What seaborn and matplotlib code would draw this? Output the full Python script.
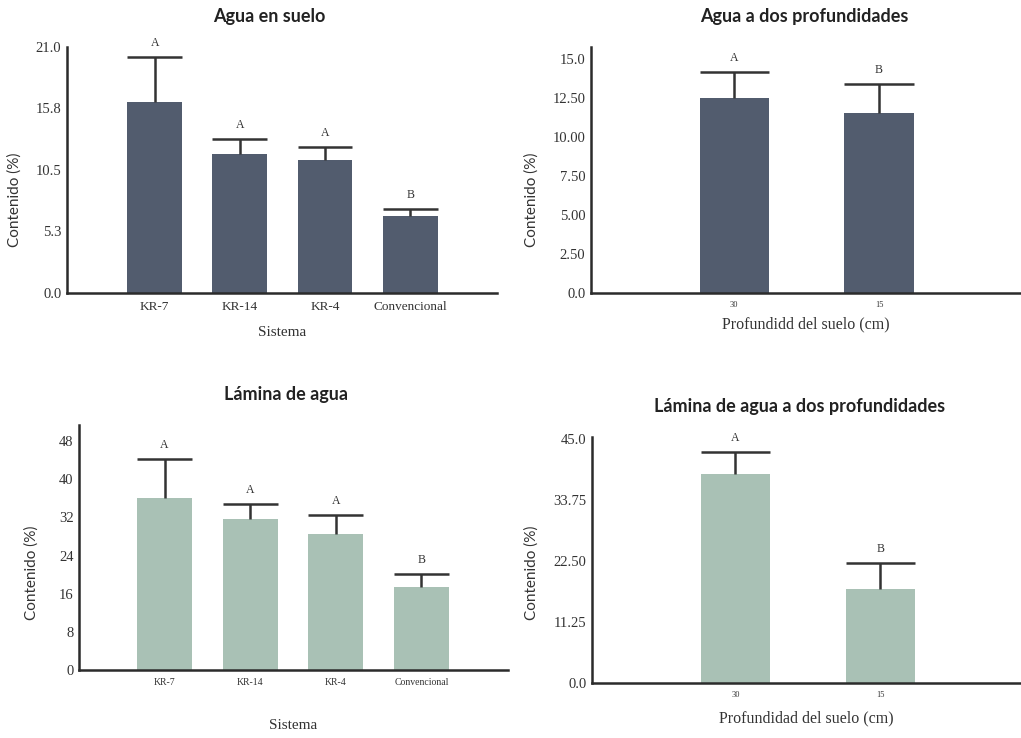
import matplotlib
matplotlib.use("Agg")
import matplotlib.pyplot as plt
import seaborn as sns
import pandas as pd

# --- data ---------------------------------------------------------------
sistemas = ["KR-7", "KR-14", "KR-4", "Convencional"]
profundidades = ["30", "15"]

agua_suelo_media = [16.3, 11.9, 11.35, 6.6]
agua_suelo_err = [3.85, 1.25, 1.1, 0.6]
agua_suelo_letras = ["A", "A", "A", "B"]

agua_prof_media = [12.5, 11.55]
agua_prof_err = [1.65, 1.85]
agua_prof_letras = ["A", "B"]

lamina_media = [36.0, 31.6, 28.5, 17.4]
lamina_err = [8.2, 3.2, 4.0, 2.7]
lamina_letras = ["A", "A", "A", "B"]

lamina_prof_media = [38.6, 17.3]
lamina_prof_err = [4.0, 4.8]
lamina_prof_letras = ["A", "B"]

yticks_agua_suelo = [0.0, 5.3, 10.5, 15.8, 21.0]
yticklabels_agua_suelo = ["0.0", "5.3", "10.5", "15.8", "21.0"]
yticks_agua_prof = [0.0, 2.5, 5.0, 7.5, 10.0, 12.5, 15.0]
yticklabels_agua_prof = ["0.0", "2.50", "5.00", "7.50", "10.00", "12.50", "15.0"]
yticks_lamina = [0, 8, 16, 24, 32, 40, 48]
yticklabels_lamina = ["0", "8", "16", "24", "32", "40", "48"]
yticks_lamina_prof = [0.0, 11.25, 22.5, 33.75, 45.0]
yticklabels_lamina_prof = ["0.0", "11.25", "22.50", "33.75", "45.0"]

# --- style --------------------------------------------------------------
sns.set_theme(style="white")
SERIF = ["Liberation Serif", "DejaVu Serif"]
SANS = ["Lato", "DejaVu Sans"]
plt.rcParams["font.family"] = SERIF

OSCURO = "#525c6e"
VERDE = "#a9c1b5"
LINEA = "#333333"

fig = plt.figure(figsize=(10.21, 7.38), dpi=100)


def panel(rect, cats, media, err, letras, color, width, xlim, ylim,
          yticks, yticklabels, titulo, xlabel, xtick_size,
          xlabel_size, xlabel_pad, ylabel_xy, title_x):
    ax = fig.add_axes(rect)
    df = pd.DataFrame({"cat": cats, "val": media})
    sns.barplot(data=df, x="cat", y="val", color=color, saturation=1,
                width=width, errorbar=None, linewidth=0, ax=ax)
    for p, m, e, l in zip(ax.patches, media, err, letras):
        xc = p.get_x() + p.get_width() / 2
        ax.vlines(xc, m, m + e, color=LINEA, lw=1.8)
        ax.hlines(m + e, p.get_x(), p.get_x() + p.get_width(),
                  color=LINEA, lw=1.8)
        ax.annotate(l, (xc, m + e), xytext=(0, 10), textcoords="offset points",
                    ha="center", va="center", fontsize=8.5, color="#333333",
                    family=SERIF)
    ax.set_xlim(*xlim)
    ax.set_ylim(*ylim)
    ax.set_yticks(yticks)
    ax.set_yticklabels(yticklabels, fontsize=10.5, color="#333333")
    ax.tick_params(axis="x", labelsize=xtick_size, colors="#333333",
                   length=0, pad=6)
    ax.tick_params(axis="y", length=0, pad=4)
    for s in ["top", "right"]:
        ax.spines[s].set_visible(False)
    for s in ["left", "bottom"]:
        ax.spines[s].set_color("#2b2b2b")
        ax.spines[s].set_linewidth(1.8)
    ax.set_xlabel(xlabel, fontsize=xlabel_size, color="#333333",
                  labelpad=xlabel_pad)
    ax.set_ylabel("Contenido (%)", fontsize=11, color="#333333",
                  family=SANS, va="center")
    ax.yaxis.set_label_coords(*ylabel_xy)
    ax.set_title(titulo, fontsize=13, fontweight="bold", color="#222222",
                 family=SANS, pad=18, x=title_x)
    return ax


panel([0.0656, 0.603, 0.4212, 0.3333], sistemas, agua_suelo_media,
      agua_suelo_err, agua_suelo_letras, OSCURO, 0.645, (-1.03, 4.02),
      (0, 21.0), yticks_agua_suelo, yticklabels_agua_suelo,
      "Agua en suelo", "Sistema", 9.5, 11, 9, (-0.121, 0.378), 0.47)

panel([0.5788, 0.603, 0.4212, 0.3333], profundidades, agua_prof_media,
      agua_prof_err, agua_prof_letras, OSCURO, 0.48, (-0.99, 1.98),
      (0, 15.75), yticks_agua_prof, yticklabels_agua_prof,
      "Agua a dos profundidades", "Profundidd del suelo (cm)", 6,
      11.5, 5, (-0.137, 0.378), 0.495)

panel([0.0774, 0.0921, 0.42, 0.332], sistemas, lamina_media,
      lamina_err, lamina_letras, VERDE, 0.645, (-1.0, 4.01),
      (0, 51.4), yticks_lamina, yticklabels_lamina,
      "Lámina de agua", "Sistema", 7, 11, 23, (-0.11, 0.396), 0.483)

panel([0.5798, 0.0745, 0.4202, 0.3334], profundidades, lamina_prof_media,
      lamina_prof_err, lamina_prof_letras, VERDE, 0.48, (-0.99, 1.97),
      (0, 45.4), yticks_lamina_prof, yticklabels_lamina_prof,
      "Lámina de agua a dos profundidades", "Profundidad del suelo (cm)", 6,
      11.5, 8, (-0.14, 0.447), 0.485)

fig.savefig("out.png", dpi=100)
